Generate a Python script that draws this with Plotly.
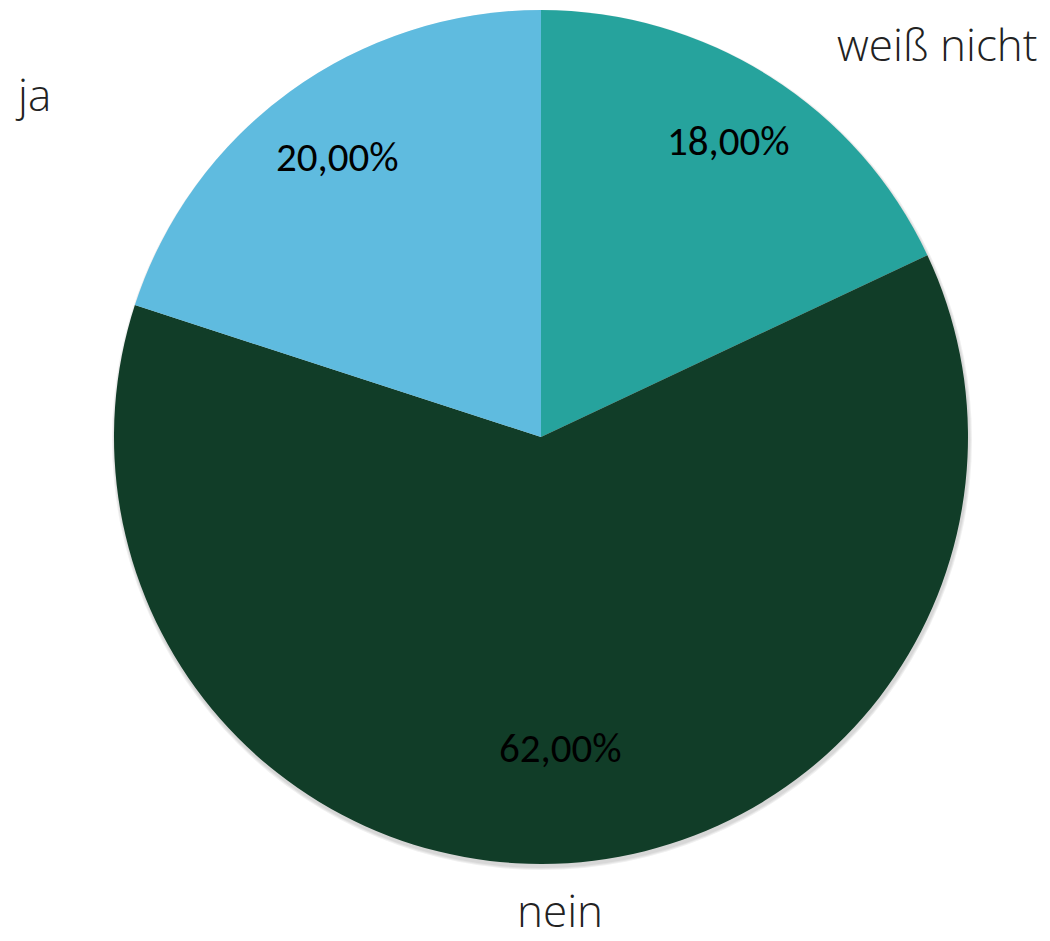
import math
import plotly.graph_objects as go

categories = ["weiß nicht", "nein", "ja"]
values = [18, 62, 20]
colors = ["#26A39D", "#113D28", "#5FBBDF"]

W, H = 1050, 941
cx, cy, r = 541, 437, 427
label_radius = [0.82, 0.73, 0.81]  # fraction of radius for percent labels

fig = go.Figure()
fig.add_trace(go.Pie(
    labels=categories,
    values=values,
    sort=False,
    direction="clockwise",
    rotation=0,
    marker=dict(colors=colors, line=dict(width=0)),
    textinfo="none",
    domain=dict(x=[(cx - r) / W, (cx + r) / W], y=[1 - (cy + r) / H, 1 - (cy - r) / H]),
    showlegend=False,
    hoverinfo="label+percent",
))

# soft shadow
shapes = []
for i, a in enumerate([0.05, 0.05, 0.06]):
    d = 1 + i
    shapes.append(dict(type="circle", xref="paper", yref="paper", layer="below",
                       x0=(cx - r - d + 1) / W, x1=(cx + r + d + 1) / W,
                       y0=1 - (cy + r + d + 3) / H, y1=1 - (cy - r - d + 3) / H,
                       fillcolor=f"rgba(0,0,0,{a})", line=dict(width=0)))

annotations = []
total = sum(values)
cum = 0
for v, fr in zip(values, label_radius):
    mid = (cum + v / 2) / total * 2 * math.pi
    cum += v
    px = cx + fr * r * math.sin(mid)
    py = cy - fr * r * math.cos(mid)
    annotations.append(dict(
        text=f"{v / total * 100:.2f}%".replace(".", ","),
        x=px / W, y=1 - py / H, yanchor="middle",
        font=dict(family="Carlito, Lato, sans-serif", size=41, color="black"),
    ))

label_font = dict(family="'Open Sans', Lato, sans-serif", size=44, color="#222", weight=300)
annotations += [
    dict(text=categories[0], x=937 / W, y=1 - 44 / H, yanchor="middle", font=label_font),
    dict(text=categories[2], x=33 / W, y=1 - 94 / H, yanchor="middle", font=label_font),
    dict(text=categories[1], x=560 / W, y=0, yanchor="bottom", font=label_font),
]
for a in annotations:
    a.update(xref="paper", yref="paper", showarrow=False, xanchor="center", borderpad=0)

fig.update_layout(
    width=W, height=H,
    margin=dict(l=0, r=0, t=0, b=0),
    paper_bgcolor="white", plot_bgcolor="white",
    separators=",.",
    shapes=shapes,
    annotations=annotations,
)
fig.write_html("out.html", config={"displayModeBar": False},
               post_script="document.body.style.margin='0';document.body.style.overflow='hidden';")
